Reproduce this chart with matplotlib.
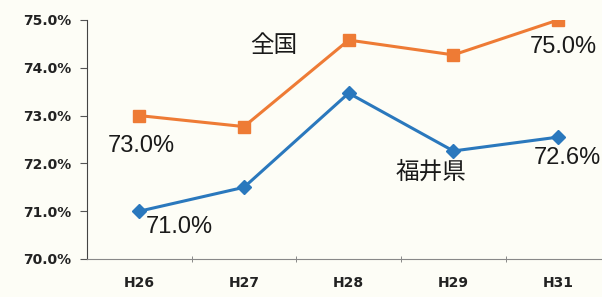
import matplotlib
matplotlib.use("Agg")
import matplotlib.pyplot as plt
from matplotlib.ticker import FixedLocator, FuncFormatter

plt.rcParams['font.family'] = ['Liberation Sans', 'Noto Sans CJK JP', 'DejaVu Sans']

categories = ["H26", "H27", "H28", "H29", "H31"]
national = [73.0, 72.77, 74.58, 74.27, 75.0]
fukui = [71.0, 71.5, 73.47, 72.26, 72.55]
yticks = [70.0, 71.0, 72.0, 73.0, 74.0, 75.0]

bg = "#fdfdf6"
orange = "#ee7b35"
blue = "#2a78bd"

fig = plt.figure(figsize=(6.02, 2.97), dpi=100, facecolor=bg)
ax = fig.add_axes([87/602, 1-259/297, 1-87/602, (259-20)/297])
ax.set_facecolor(bg)

x = list(range(len(categories)))
ax.plot(x, national, color=orange, lw=2.2, marker='s', ms=8, mec=orange, mfc=orange)
ax.plot(x, fukui, color=blue, lw=2.2, marker='D', ms=7, mec=blue, mfc=blue)

ax.set_xlim(-0.5, 4.42)
ax.set_ylim(70, 75)
ax.set_yticks(yticks)
ax.yaxis.set_major_formatter(FuncFormatter(lambda v, p: f"{v:.1f}%"))
ax.set_xticks(x)
ax.set_xticklabels(categories)
ax.xaxis.set_minor_locator(FixedLocator([0.5, 1.5, 2.5, 3.5]))
ax.tick_params(axis='x', which='major', length=0, pad=12, labelsize=11, colors='#222222')
ax.tick_params(axis='x', which='minor', length=4, direction='inout', color='#777777')
ax.tick_params(axis='y', length=5, direction='out', labelsize=11, colors='#222222', color='#555555', pad=6)
for lbl in ax.get_xticklabels() + ax.get_yticklabels():
    lbl.set_fontweight('bold')
    lbl.set_family(['DejaVu Sans'])
    lbl.set_fontsize(10)
for s in ['top', 'right']:
    ax.spines[s].set_visible(False)
ax.spines['left'].set_color('#444444')
ax.spines['bottom'].set_color('#888888')

tk = dict(fontsize=17, color='#1a1a1a', ha='center', va='center')
ax.text(0.02, 72.36, f"{national[0]:.1f}%", **tk)
ax.text(0.38, 70.67, f"{fukui[0]:.1f}%", **tk)
ax.text(4.05, 74.43, f"{national[4]:.1f}%", **tk)
ax.text(4.09, 72.11, "72.6%", **tk)
ax.text(1.28, 74.45, "全国", **tk)
ax.text(2.79, 71.8, "福井県", **tk)

fig.savefig("out.png", dpi=100, facecolor=bg)
